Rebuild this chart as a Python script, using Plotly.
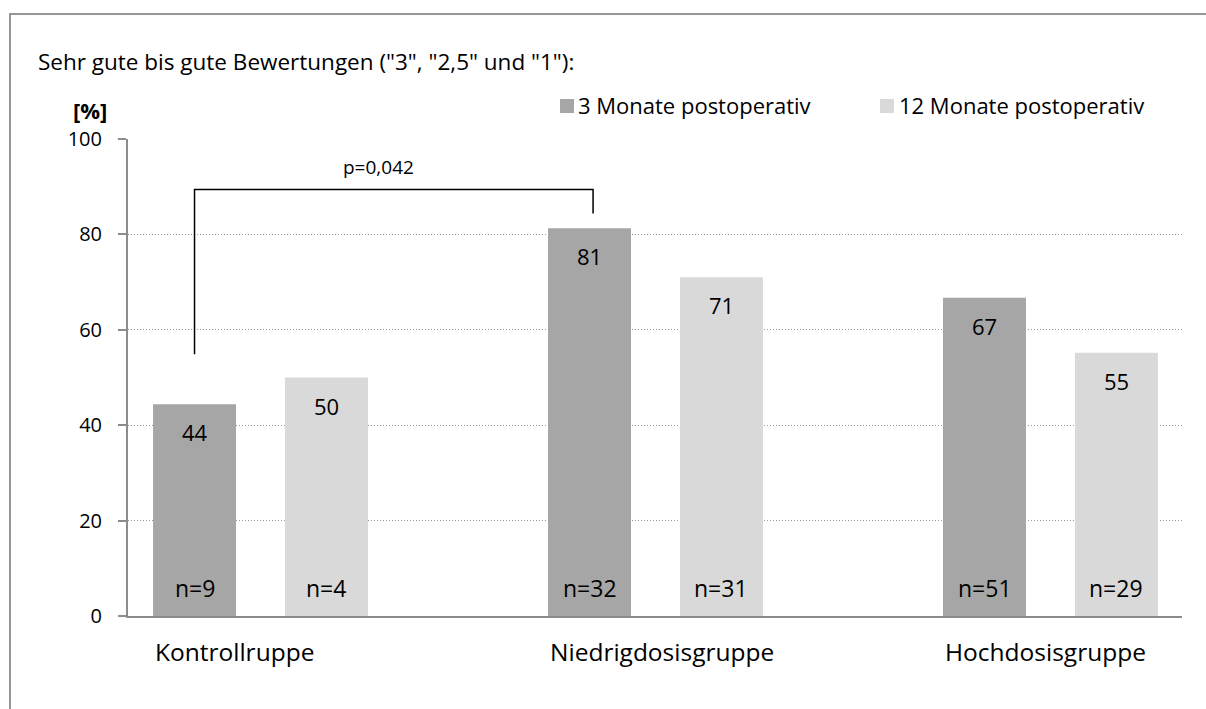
import plotly.graph_objects as go

# ---- data ----
groups = ["Kontrollruppe", "Niedrigdosisgruppe", "Hochdosisgruppe"]
series_names = ["3 Monate postoperativ", "12 Monate postoperativ"]
vals_3m = [44.4, 81.3, 66.7]
vals_12m = [50.0, 71.0, 55.2]
n_3m = [9, 32, 51]
n_12m = [4, 31, 29]
colors = ["#a6a6a6", "#d9d9d9"]
y_ticks = [0, 20, 40, 60, 80, 100]
title_text = 'Sehr gute bis gute Bewertungen ("3", "2,5" und "1"):'
p_text = "p=0,042"

FONT = "Open Sans"
OFF = 0  # body margin removed via post_script
W, H = 1206, 709
# target screen positions of the plot area
SX0, SX1, SY0, SY1 = 128, 1182, 139, 616
ML = SX0 - OFF
MT = SY0 - OFF
MR = W - (SX1 - OFF)
MB = H - (SY1 - OFF)
PW, PH = SX1 - SX0, SY1 - SY0

def px2x(px):
    return (px - SX0) / PW

def py2y(py):
    return (SY1 - py) / PH

xpos = list(range(len(groups)))
half_slot = 0.167
bar_w = 0.21

fig = go.Figure()
for name, vals, col in [(series_names[0], vals_3m, colors[0]), (series_names[1], vals_12m, colors[1])]:
    fig.add_trace(go.Bar(x=xpos, y=vals, name=name, marker=dict(color=col, line=dict(width=0)),
                         showlegend=False, hoverinfo="skip"))

fig.update_layout(
    width=W, height=H,
    margin=dict(l=ML, r=MR, t=MT, b=MB),
    paper_bgcolor="white", plot_bgcolor="white",
    barmode="group", bargap=0.332, bargroupgap=0.371,
    font=dict(family=FONT, color="#000000"),
)
fig.update_xaxes(range=[-0.3354, 2.333], showticklabels=False, showgrid=False, zeroline=False,
                 showline=True, linecolor="#8c8c8c", linewidth=2, ticks="")
fig.update_yaxes(range=[0, 100], tickvals=y_ticks, showgrid=True, gridcolor="#9a9a9a", gridwidth=1,
                 griddash="1px,2px", zeroline=False, showline=True, linecolor="#8c8c8c", linewidth=2,
                 ticks="outside", ticklen=8, tickcolor="#8c8c8c", tickwidth=2, ticklabelstandoff=12,
                 tickfont=dict(size=20, family=FONT, color="#000"))

ann = []
for i in xpos:
    for k, (vals, ns) in enumerate([(vals_3m, n_3m), (vals_12m, n_12m)]):
        xc = i + (2 * k - 1) * half_slot
        ann.append(dict(x=xc, y=vals[i], xref="x", yref="y", text=f"{round(vals[i])}", showarrow=False,
                        yanchor="middle", yshift=-28, font=dict(size=22, family=FONT)))
        ann.append(dict(x=xc, y=0, xref="x", yref="y", text=f"n={ns[i]}", showarrow=False,
                        yanchor="middle", yshift=28, font=dict(size=23, family=FONT)))
    ann.append(dict(x=i - half_slot - bar_w / 2, y=py2y(651), xref="x", yref="paper", text=groups[i],
                    showarrow=False, xanchor="left", yanchor="middle", font=dict(size=24.5, family=FONT)))

ann.append(dict(x=px2x(36), y=py2y(62), xref="paper", yref="paper", text=title_text, showarrow=False,
                xanchor="left", yanchor="middle", font=dict(size=22.5, family=FONT)))
ann.append(dict(x=px2x(90), y=py2y(110), xref="paper", yref="paper", text="<b>[%]</b>", showarrow=False,
                xanchor="center", yanchor="middle", font=dict(size=22, family=FONT)))
ann.append(dict(x=px2x(378), y=py2y(167), xref="paper", yref="paper", text=p_text, showarrow=False,
                xanchor="center", yanchor="middle", font=dict(size=19, family=FONT)))

# legend built from shapes + text
shapes = []
for (mx, tx, name, col) in [(560, 576, series_names[0], colors[0]), (880, 897, series_names[1], colors[1])]:
    shapes.append(dict(type="rect", xref="paper", yref="paper", x0=px2x(mx), x1=px2x(mx + 14),
                       y0=py2y(113), y1=py2y(99), fillcolor=col, line=dict(width=0)))
    ann.append(dict(x=px2x(tx), y=py2y(105), xref="paper", yref="paper", text=name, showarrow=False,
                    xanchor="left", yanchor="middle", font=dict(size=22, family=FONT)))

# significance bracket
lx = 0 - half_slot
rx = 1 - half_slot + 0.009
shapes.append(dict(type="path", xref="x", yref="y",
                   path=f"M {lx},54.9 L {lx},89.4 L {rx},89.4 L {rx},84.4",
                   line=dict(color="#000", width=1.5)))

# outer frame (open to the right and bottom)
shapes.append(dict(type="path", xref="paper", yref="paper",
                   path=f"M {px2x(10)},{py2y(760)} L {px2x(10)},{py2y(14)} L {px2x(1260)},{py2y(14)}",
                   line=dict(color="#969696", width=2), layer="below"))

fig.update_layout(annotations=ann, shapes=shapes)
fig.write_html("out.html", include_plotlyjs=True, config={"displayModeBar": False},
               post_script="document.body.style.margin='0';document.documentElement.style.overflow='hidden';")
